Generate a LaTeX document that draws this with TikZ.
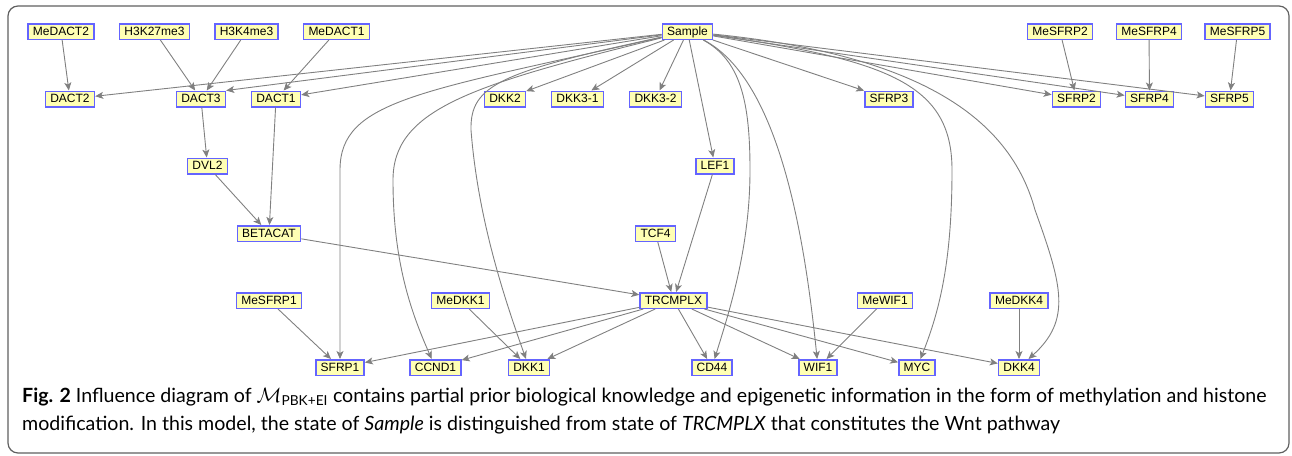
\documentclass[tikz,border=0pt]{standalone}
\usepackage{fontspec}
\usepackage{amsmath}
\usetikzlibrary{arrows.meta}
\setmainfont{Lato}
\newfontfamily\boxfont{Liberation Sans}
\definecolor{boxfill}{RGB}{255,255,180}
\definecolor{boxline}{RGB}{100,100,255}
\definecolor{edgegray}{RGB}{128,128,128}

\begin{document}
\begin{tikzpicture}[x=1pt, y=-1pt,
	box/.style={draw=boxline, fill=boxfill, line width=1.5pt, inner xsep=4.8pt, inner ysep=0pt,
		minimum height=15.5pt, text height=8.6pt, text depth=1.6pt, font=\boxfont\fontsize{12}{14}\selectfont},
	edge/.style={draw=edgegray, line width=0.9pt, -{Stealth[length=8pt, width=7pt, inset=2pt]}},
	caption/.style={anchor=base west, inner sep=0pt, font=\fontsize{19.6}{23}\selectfont}]
	 \useasboundingbox (0, 0) rectangle (1292, 455);
	 \draw[gray!75!black, line width=1.2pt, rounded corners=10pt] (8, 6) rectangle (1289, 453);
	 
	 \foreach \name/\x/\y in {MeDACT2/61/31.5, H3K27me3/154.5/31.5, H3K4me3/246.5/31.5, MeDACT1/336.5/31.5,
		Sample/687.5/31.5, MeSFRP2/1060/31.5, MeSFRP4/1149/31.5, MeSFRP5/1237.5/31.5,
		DACT2/70/99, DACT3/201/99, DACT1/276/99, DKK2/505/99, DKK3-1/577.5/99, DKK3-2/655.5/99,
		SFRP3/889/99, SFRP2/1076.5/99, SFRP4/1149.5/99, SFRP5/1229.5/99,
		DVL2/207.5/166, LEF1/715/166, BETACAT/269/233.5, TCF4/655.5/233.5,
		MeSFRP1/269/300.5, MeDKK1/460.5/300.5, TRCMPLX/673.5/300.5, MeWIF1/885/300.5, MeDKK4/1019/300.5,
		SFRP1/340/367.5, CCND1/435.5/367.5, DKK1/529/367.5, CD44/712/367.5, WIF1/818/367.5,
		MYC/917/367.5, DKK4/1019/367.5}
	 \node[box] (\name) at (\x, \y) {\name};
	 
	 \foreach \a/\b in {MeDACT2/DACT2, H3K27me3/DACT3, H3K4me3/DACT3, MeDACT1/DACT1,
		DACT3/DVL2, DVL2/BETACAT, DACT1/BETACAT, BETACAT/TRCMPLX, TCF4/TRCMPLX, LEF1/TRCMPLX,
		MeSFRP2/SFRP2, MeSFRP4/SFRP4, MeSFRP5/SFRP5, MeSFRP1/SFRP1, MeDKK1/DKK1, MeWIF1/WIF1, MeDKK4/DKK4,
		Sample/DACT2, Sample/DACT1, Sample/DKK2, Sample/DKK3-1, Sample/DKK3-2, Sample/LEF1,
		Sample/SFRP3, Sample/SFRP2, Sample/SFRP4, Sample/SFRP5,
		TRCMPLX/SFRP1, TRCMPLX/CCND1, TRCMPLX/DKK1, TRCMPLX/CD44, TRCMPLX/WIF1, TRCMPLX/MYC, TRCMPLX/DKK4}
	 \draw[edge] (\a) -- (\b);
	 \draw[edge] (Sample) -- (DACT3.north east);
	 
	 \draw[edge] (Sample) .. controls (420, 92) and (340, 100) .. (340, 170) -- (SFRP1);
	 \draw[edge] (Sample) .. controls (470, 85) and (393, 110) .. (393, 180) .. controls (393, 260) and (410, 310) .. (CCND1);
	 \draw[edge] (Sample) .. controls (500, 72) and (470, 85) .. (471, 130) .. controls (478, 220) and (505, 300) .. (DKK1);
	 \draw[edge] (Sample) .. controls (740, 60) and (750, 100) .. (750, 170) .. controls (750, 250) and (728, 315) .. (CD44);
	 \draw[edge] (Sample) .. controls (780, 80) and (805, 240) .. (WIF1);
	 \draw[edge] (Sample) .. controls (890, 60) and (952, 85) .. (952, 170) .. controls (952, 260) and (940, 310) .. (MYC);
	 \draw[edge] (Sample) .. controls (920, 55) and (1010, 118) .. (1035, 210) .. controls (1062, 285) and (1072, 320) .. (DKK4);
	 
	 \node[caption] (cap1) at (22, 402) {\textbf{Fig. 2} Influence diagram of $\mathcal{M}$\textsubscript{PBK+EI} contains partial prior biological knowledge and epigenetic information in the form of methylation and histone};
	 \node[caption] (cap2) at (22, 430) {modification. In this model, the state of \textit{Sample} is distinguished from state of \textit{TRCMPLX} that constitutes the Wnt pathway};
\end{tikzpicture}
\end{document}
